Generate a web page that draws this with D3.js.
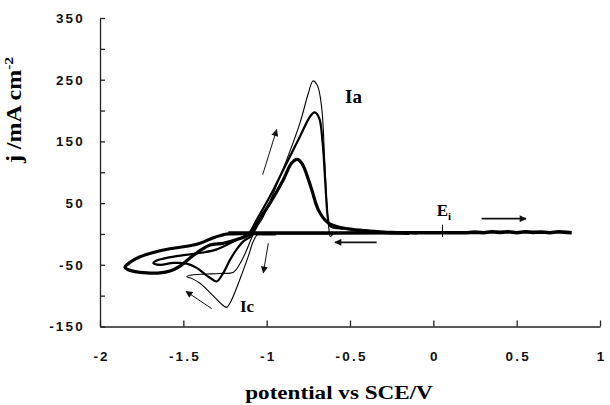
<!DOCTYPE html>
<html>
<head>
<meta charset="utf-8">
<script src="https://cdn.jsdelivr.net/npm/d3@7"></script>
<style>
  html, body { margin: 0; padding: 0; background: #fff; }
  svg { display: block; }
</style>
</head>
<body>
<svg id="chart" width="610" height="405"></svg>
<script>
// Axis ticks
const xTicks = [-2, -1.5, -1, -0.5, 0, 0.5, 1];
const yTicks = [-150, -100, -50, 0, 50, 100, 150, 200, 250, 300, 350];
const yLabels = [-150, -50, 50, 150, 250, 350];

// Shared flat part of the scans (potential / V, current density / mA cm-2)
const baseE = [-1.23, -1.0, -0.6, -0.2, 0.0, 0.2, 0.25, 0.3, 0.35, 0.4, 0.45, 0.5, 0.55, 0.6, 0.65, 0.7, 0.75, 0.8, 0.83];
const baseJ = [1.5, 1.5, 1.5, 2, 2, 2, 3, 2, 3.5, 2.5, 3.5, 2, 3.5, 2.5, 3.2, 2, 3.5, 2.5, 2];

// Thin cycle
const thinE = [-0.60, -0.90, -1.05, -1.08, -1.11, -1.15, -1.19, -1.22, -1.24, -1.27, -1.34, -1.40, -1.45, -1.48, -1.44, -1.36, -1.28, -1.20, -1.16, -1.12, -1.09, -1.06, -1.02, -0.96, -0.88, -0.80, -0.75, -0.722, -0.695, -0.67, -0.652, -0.64, -0.628, -0.618, -0.605];
const thinJ = [0, 0, 0, -12, -36, -66, -94, -112, -119, -114, -95, -80, -72, -69, -66, -65, -64, -62, -48, -26, -6, 10, 28, 66, 120, 180, 228, 248, 240, 205, 120, 55, 12, -4, -1];

// Medium cycle
const midE = [-0.95, -1.08, -1.10, -1.14, -1.18, -1.22, -1.26, -1.30, -1.34, -1.38, -1.42, -1.48, -1.56, -1.64, -1.68, -1.66, -1.62, -1.54, -1.46, -1.38, -1.30, -1.22, -1.16, -1.11, -1.06, -0.98, -0.90, -0.80, -0.74, -0.712, -0.685, -0.665, -0.652, -0.642, -0.634, -0.624, -0.60, -0.56, -0.48, -0.40, -0.30, -0.20, -0.10];
const midJ = [0, 0, -5, -12, -25, -42, -63, -77, -71, -63, -55, -48, -47, -50, -47, -43, -40, -36, -33, -30, -25, -15, -7, 0, 23, 61, 104, 158, 190, 197, 188, 150, 100, 55, 28, 14, 10, 9, 7, 6, 4, 3, 1];

// Thick cycle
const thickE = [-0.95, -1.23, -1.27, -1.32, -1.40, -1.48, -1.58, -1.68, -1.76, -1.82, -1.85, -1.83, -1.79, -1.72, -1.64, -1.58, -1.52, -1.46, -1.40, -1.34, -1.26, -1.18, -1.10, -1.04, -0.98, -0.90, -0.85, -0.816, -0.79, -0.77, -0.73, -0.69, -0.64, -0.58, -0.48, -0.38, -0.28, -0.15];
const thickJ = [0, 0, -2, -6, -15, -20, -24, -30, -37, -46, -54, -58, -61, -63, -63, -60, -52, -39, -27, -18, -15, -9, 0, 25, 50, 88, 115, 121, 115, 104, 72, 39, 20, 12, 7, 4, 2, 1];

// Scan-direction arrows: [E0, j0, E1, j1]
const arrows = [
  [-1.024, 96, -0.94, 169],
  [-0.99, -15, -1.02, -63],
  [-1.33, -121, -1.484, -93],
  [-0.34, -13.6, -0.59, -13.6],
  [0.29, 24.8, 0.556, 24.8]
];
const arrowWidths = [1, 1, 1, 1.6, 1.6];

// Peak / potential annotations
const labelIa = { E: -0.53, j: 212 };
const labelIc = { E: -1.16, j: -127 };
const labelEi = { E: 0.02, j: 28.5 };
const markEi = { E: 0.055, j0: 15, j1: -5 };

const svg = d3.select('#chart');
const x = d3.scaleLinear().domain([-2, 1]).range([100, 600]);
const y = d3.scaleLinear().domain([-150, 350]).range([326.5, 18]);

const defs = svg.append('defs');
defs.append('marker')
  .attr('id', 'head')
  .attr('viewBox', '0 0 10 10')
  .attr('refX', 9).attr('refY', 5)
  .attr('markerUnits', 'userSpaceOnUse')
  .attr('markerWidth', 8).attr('markerHeight', 7)
  .attr('orient', 'auto')
  .append('path').attr('d', 'M0,0 L10,5 L0,10 Z').attr('fill', '#111');

// Axes
const yAxis = svg.append('g')
  .attr('transform', 'translate(100,0)')
  .call(d3.axisLeft(y).tickValues(yTicks)
    .tickFormat(d => yLabels.includes(d) ? String(d) : '')
    .tickSize(-5).tickSizeOuter(0).tickPadding(15));

const xAxis = svg.append('g')
  .attr('transform', 'translate(0,326.5)')
  .call(d3.axisBottom(x).tickValues(xTicks)
    .tickFormat(d => String(d))
    .tickSize(-6).tickSizeOuter(0).tickPadding(25));

[yAxis, xAxis].forEach(g => {
  g.select('.domain').attr('stroke', '#222').attr('stroke-width', 1.3);
  g.selectAll('.tick line').attr('stroke', '#222').attr('stroke-width', 1.3);
  g.selectAll('.tick text')
    .attr('fill', '#111')
    .style('font-family', '"Liberation Sans", Arial, sans-serif')
    .style('font-weight', 'bold')
    .style('font-size', '13.5px')
    .style('letter-spacing', '2.2px');
});
xAxis.selectAll('.tick text').attr('dx', '1.1px');

// Curves
const line = d3.line()
  .x(d => x(d[0])).y(d => y(d[1]))
  .curve(d3.curveCatmullRom.alpha(0.5));
const zip = (a, b) => a.map((v, i) => [v, b[i]]);

const curves = [
  { E: thickE, J: thickJ, w: 3.2 },
  { E: midE, J: midJ, w: 2.2 },
  { E: thinE, J: thinJ, w: 1.1 }
];
svg.append('g').selectAll('path.cv')
  .data(curves).join('path')
  .attr('class', 'cv')
  .attr('d', c => line(zip(c.E, c.J)))
  .attr('fill', 'none')
  .attr('stroke', '#000')
  .attr('stroke-width', c => c.w)
  .attr('stroke-linejoin', 'round')
  .attr('stroke-linecap', 'round');

svg.append('path')
  .attr('d', d3.line().x(d => x(d[0])).y(d => y(d[1]))(zip(baseE, baseJ)))
  .attr('fill', 'none')
  .attr('stroke', '#000')
  .attr('stroke-width', 3.6);

// Ei marker
svg.append('line')
  .attr('x1', x(markEi.E)).attr('x2', x(markEi.E))
  .attr('y1', y(markEi.j0)).attr('y2', y(markEi.j1))
  .attr('stroke', '#000').attr('stroke-width', 1);

// Arrows
svg.append('g').selectAll('line')
  .data(arrows).join('line')
  .attr('x1', d => x(d[0])).attr('y1', d => y(d[1]))
  .attr('x2', d => x(d[2])).attr('y2', d => y(d[3]))
  .attr('stroke', '#111')
  .attr('stroke-width', (d, i) => arrowWidths[i])
  .attr('marker-end', 'url(#head)');

// Annotations
const serif = '"Liberation Serif", "Times New Roman", serif';
svg.append('text')
  .attr('x', x(labelIa.E)).attr('y', y(labelIa.j))
  .style('font-family', serif).style('font-weight', 'bold').style('font-size', '19px')
  .text('Ia');
svg.append('text')
  .attr('x', x(labelIc.E)).attr('y', y(labelIc.j))
  .style('font-family', serif).style('font-weight', 'bold').style('font-size', '17px')
  .text('Ic');
const ei = svg.append('text')
  .attr('x', x(labelEi.E)).attr('y', y(labelEi.j))
  .style('font-family', serif).style('font-weight', 'bold').style('font-size', '17px');
ei.append('tspan').text('E');
ei.append('tspan').attr('dy', 4).style('font-size', '11px').text('i');

// Axis titles
svg.append('text')
  .attr('transform', 'translate(339,399) scale(1.25,1)')
  .attr('text-anchor', 'middle')
  .style('font-family', serif).style('font-weight', 'bold').style('font-size', '18.5px')
  .text('potential vs SCE/V');

const yt = svg.append('text')
  .attr('transform', 'translate(21,110) rotate(-90) scale(1.2,1)')
  .attr('text-anchor', 'middle')
  .style('font-family', serif).style('font-weight', 'bold').style('font-size', '20px');
yt.append('tspan').text('j /mA cm');
yt.append('tspan').attr('dy', -8).style('font-size', '13px').text('-2');
</script>
</body>
</html>
